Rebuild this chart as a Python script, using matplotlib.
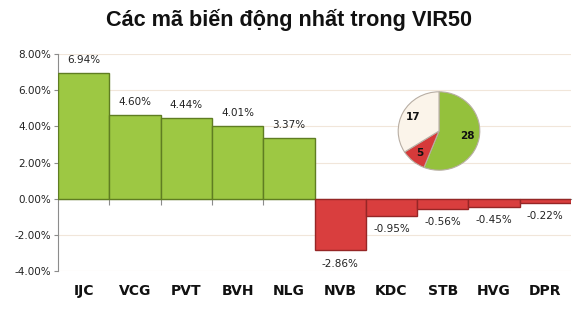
import matplotlib
matplotlib.use("Agg")
import matplotlib.pyplot as plt
from matplotlib.ticker import FuncFormatter, FixedLocator
import matplotlib.transforms as mtrans

categories = ["IJC", "VCG", "PVT", "BVH", "NLG", "NVB", "KDC", "STB", "HVG", "DPR"]
values = [6.94, 4.60, 4.44, 4.01, 3.37, -2.86, -0.95, -0.56, -0.45, -0.22]
pie_values = [28, 5, 17]
pie_colors = ["#94C13C", "#D63A3A", "#FBF4EA"]
title = "Các mã biến động nhất trong VIR50"

W, H = 577, 317
fig = plt.figure(figsize=(W / 100, H / 100), dpi=100)
fig.patch.set_facecolor("white")

ax = fig.add_axes([58 / W, 1 - 271 / H, (571 - 58) / W, (271 - 54) / H])
x = list(range(len(categories)))
colors = ["#9DC843" if v >= 0 else "#D93E3E" for v in values]
edges = ["#5F7D22" if v >= 0 else "#962626" for v in values]
ax.bar(x, values, width=1.0, color=colors, edgecolor=edges, linewidth=1.0, zorder=3)

ax.set_xlim(-0.5, len(categories) - 0.5)
ax.set_ylim(-4, 8)
ax.yaxis.set_major_locator(FixedLocator([-4, -2, 0, 2, 4, 6, 8]))
ax.yaxis.set_major_formatter(FuncFormatter(lambda v, p: f"{v:.2f}%"))
ax.grid(axis="y", color="#F1E6DA", linewidth=0.8, zorder=0)
for s in ["top", "right"]:
    ax.spines[s].set_visible(False)
ax.spines["left"].set_color("#8C8C8C")
ax.spines["bottom"].set_position(("data", 0))
ax.spines["bottom"].set_color("#8C8C8C")
ax.set_xticks([i + 0.5 for i in range(len(categories) - 1)])
ax.set_xticklabels([])
ax.tick_params(axis="x", direction="out", length=4, color="#8C8C8C")
ax.tick_params(axis="y", direction="out", length=3, color="#8C8C8C",
               labelsize=7.5, labelcolor="#222222", pad=2)

trans = mtrans.blended_transform_factory(ax.transData, ax.transAxes)
for i, c in enumerate(categories):
    ax.text(i, -0.09, c, transform=trans, ha="center", va="center",
            fontsize=10, fontweight="bold", color="#111111",
            family="DejaVu Sans")

for i, v in enumerate(values):
    if v >= 0:
        ax.text(i, v + 0.45, f"{v:.2f}%", ha="center", va="bottom",
                fontsize=7.5, color="#222222")
    else:
        ax.text(i, v - 0.45, f"{v:.2f}%", ha="center", va="top",
                fontsize=7.5, color="#222222")

fig.text(0.5, 1 - 20 / H, title, ha="center", va="center",
         fontsize=15.6, fontweight="bold", color="#111111",
         family="Liberation Sans")

total = sum(pie_values)
pax = fig.add_axes([(439 - 51) / W, 1 - (131 + 49) / H, 102 / W, 98 / H])
pax.pie(pie_values, colors=pie_colors, startangle=90, counterclock=False,
        autopct=lambda p: f"{round(p * total / 100)}", pctdistance=0.72,
        wedgeprops=dict(edgecolor="#B8AEA4", linewidth=0.8),
        textprops=dict(fontsize=7.5, fontweight="bold", color="#111111"))
pax.set_aspect("auto")

fig.savefig("out.png", dpi=100, facecolor="white")
